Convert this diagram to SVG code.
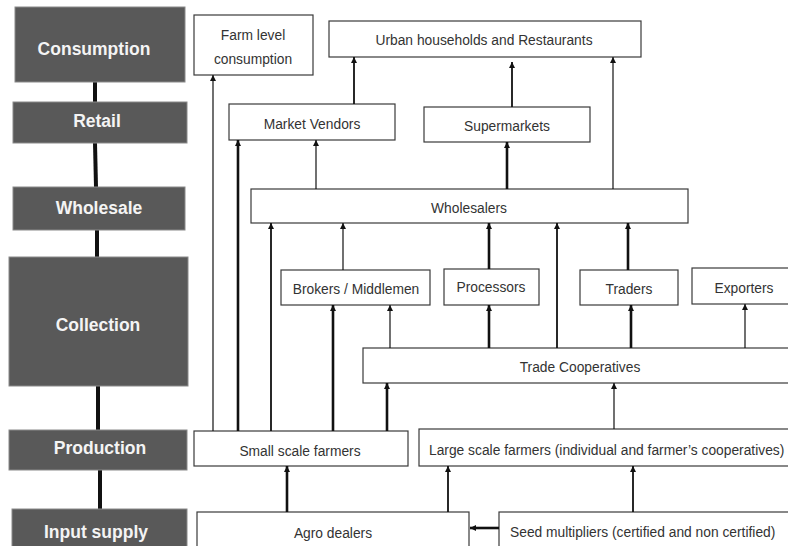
<svg xmlns="http://www.w3.org/2000/svg" width="788" height="546" viewBox="0 0 788 546">
  <style>
    .stage rect { fill: #595959; stroke: #8a8a8a; stroke-width: 1; }
    .stage text { fill: #f4f4f4; font-family: "Liberation Sans", Arial, sans-serif; font-size: 17.5px; font-weight: bold; text-anchor: middle; dominant-baseline: central; }
    .node rect { fill: #ffffff; stroke: #3a3a3a; stroke-width: 1.2; }
    .node text { fill: #333333; font-family: "Liberation Sans", Arial, sans-serif; font-size: 13.8px; text-anchor: middle; dominant-baseline: central; }
    .spine line { stroke: #111111; stroke-width: 4; }
    .edges line { stroke: #111111; fill: none; marker-end: url(#arrow); }
    .thin { stroke-width: 1.2; }
    .mid { stroke-width: 1.8; }
    .thick { stroke-width: 2.6; }
  </style>
  <defs>
    <marker id="arrow" markerUnits="userSpaceOnUse" markerWidth="7" markerHeight="7" refX="6" refY="3" orient="auto">
      <path d="M0,0 L6,3 L0,6 z" fill="#111111"/>
    </marker>
  </defs>
  <rect width="788" height="546" fill="#ffffff"/>

  <!-- value-chain stages (left column) -->
  <g class="spine">
    <line x1="95" y1="82" x2="95" y2="102"/>
    <line x1="95" y1="143" x2="96" y2="187"/>
    <line x1="97" y1="230" x2="97" y2="257"/>
    <line x1="98" y1="386" x2="98" y2="430"/>
    <line x1="100" y1="470" x2="100" y2="509"/>
  </g>
  <g id="stage-consumption" class="stage">
    <rect x="15" y="7" width="170" height="75"/>
    <text x="94" y="49">Consumption</text>
  </g>
  <g id="stage-retail" class="stage">
    <rect x="13" y="102" width="174" height="41"/>
    <text x="97" y="121">Retail</text>
  </g>
  <g id="stage-wholesale" class="stage">
    <rect x="13" y="187" width="172" height="43"/>
    <text x="99" y="208">Wholesale</text>
  </g>
  <g id="stage-collection" class="stage">
    <rect x="9" y="257" width="179" height="129"/>
    <text x="98" y="325">Collection</text>
  </g>
  <g id="stage-production" class="stage">
    <rect x="9" y="430" width="178" height="40"/>
    <text x="100" y="448">Production</text>
  </g>
  <g id="stage-input" class="stage">
    <rect x="12" y="509" width="175" height="45"/>
    <text x="96" y="532">Input supply</text>
  </g>

  <!-- actors -->
  <g id="farm-level" class="node">
    <rect x="194" y="15" width="119" height="60"/>
    <text x="253" y="35">Farm level</text>
    <text x="253" y="59">consumption</text>
  </g>
  <g id="urban" class="node">
    <rect x="329" y="21" width="312" height="36"/>
    <text x="484" y="40">Urban households and Restaurants</text>
  </g>
  <g id="market-vendors" class="node">
    <rect x="229" y="104" width="166" height="36"/>
    <text x="312" y="124">Market Vendors</text>
  </g>
  <g id="supermarkets" class="node">
    <rect x="424" y="107" width="166" height="35"/>
    <text x="507" y="126">Supermarkets</text>
  </g>
  <g id="wholesalers" class="node">
    <rect x="251" y="189" width="437" height="34"/>
    <text x="469" y="208">Wholesalers</text>
  </g>
  <g id="brokers" class="node">
    <rect x="281" y="270" width="149" height="35"/>
    <text x="356" y="289">Brokers / Middlemen</text>
  </g>
  <g id="processors" class="node">
    <rect x="444" y="269" width="95" height="36"/>
    <text x="491" y="287">Processors</text>
  </g>
  <g id="traders" class="node">
    <rect x="580" y="270" width="98" height="35"/>
    <text x="629" y="289">Traders</text>
  </g>
  <g id="exporters" class="node">
    <rect x="692" y="268" width="104" height="36"/>
    <text x="744" y="288">Exporters</text>
  </g>
  <g id="trade-cooperatives" class="node">
    <rect x="363" y="348" width="432" height="35"/>
    <text x="580" y="367">Trade Cooperatives</text>
  </g>
  <g id="small-scale" class="node">
    <rect x="194" y="431" width="214" height="35"/>
    <text x="300" y="451">Small scale farmers</text>
  </g>
  <g id="large-scale" class="node">
    <rect x="419" y="429" width="376" height="37"/>
    <text x="429" y="450" style="text-anchor:start">Large scale farmers (individual and farmer’s cooperatives)</text>
  </g>
  <g id="agro-dealers" class="node">
    <rect x="197" y="512" width="272" height="40"/>
    <text x="333" y="533">Agro dealers</text>
  </g>
  <g id="seed-multipliers" class="node">
    <rect x="499" y="512" width="296" height="40"/>
    <text x="510" y="532" style="text-anchor:start">Seed multipliers (certified and non certified)</text>
  </g>

  <!-- flows -->
  <g id="connectors" class="edges">
    <line class="thin" x1="213" y1="431" x2="213" y2="75"/>
    <line class="thick" x1="238" y1="431" x2="238" y2="140"/>
    <line class="mid" x1="271" y1="431" x2="271" y2="223"/>
    <line class="thick" x1="333" y1="431" x2="333" y2="305"/>
    <line class="thick" x1="387" y1="431" x2="387" y2="383"/>
    <line class="thin" x1="343" y1="270" x2="343" y2="223"/>
    <line class="thin" x1="390" y1="348" x2="390" y2="305"/>
    <line class="thick" x1="489" y1="269" x2="489" y2="223"/>
    <line class="thick" x1="489" y1="348" x2="489" y2="305"/>
    <line class="mid" x1="557" y1="348" x2="557" y2="223"/>
    <line class="thick" x1="628" y1="270" x2="628" y2="223"/>
    <line class="thick" x1="631" y1="348" x2="631" y2="305"/>
    <line class="thin" x1="745" y1="348" x2="745" y2="304"/>
    <line class="thin" x1="316" y1="189" x2="316" y2="140"/>
    <line class="thick" x1="507" y1="189" x2="507" y2="142"/>
    <line class="thin" x1="613" y1="189" x2="613" y2="57"/>
    <line class="mid" x1="354" y1="104" x2="354" y2="57"/>
    <line class="mid" x1="512" y1="107" x2="512" y2="62"/>
    <line class="thin" x1="614" y1="429" x2="614" y2="383"/>
    <line class="thick" x1="287" y1="512" x2="287" y2="466"/>
    <line class="mid" x1="448" y1="512" x2="448" y2="466"/>
    <line class="mid" x1="633" y1="512" x2="633" y2="466"/>
    <line class="thick" x1="499" y1="528" x2="470" y2="528"/>
  </g>
</svg>
